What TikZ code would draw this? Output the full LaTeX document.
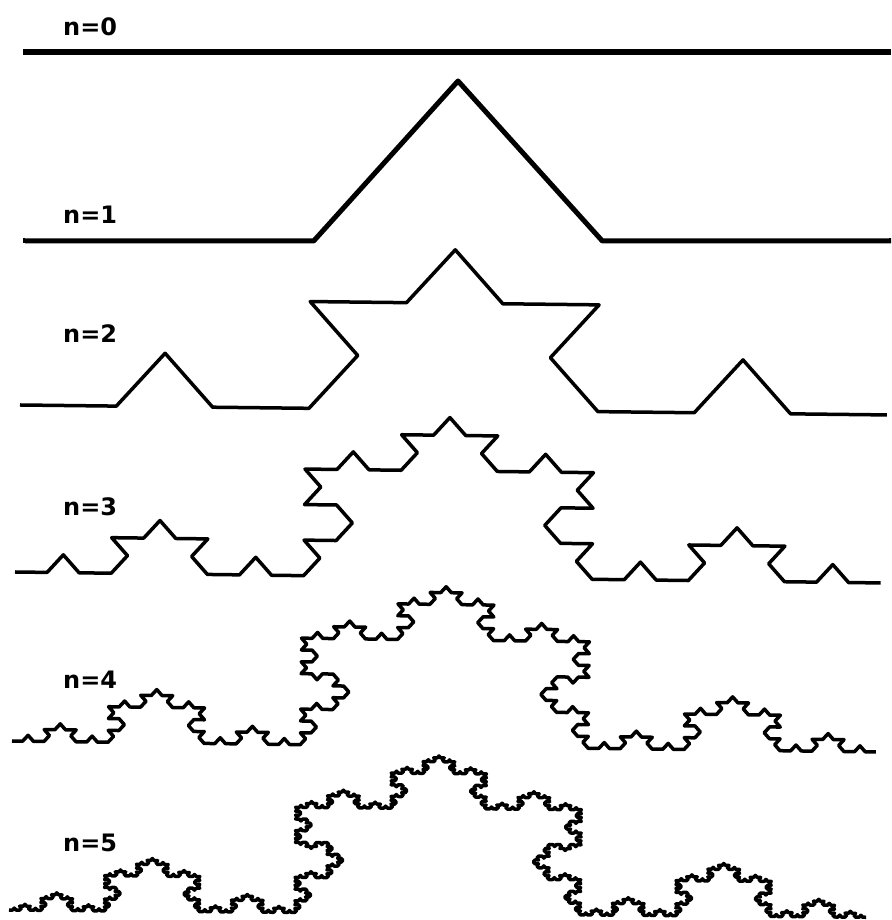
\documentclass[tikz,border=0pt]{standalone}
\usepackage{fontspec}
\setmainfont{DejaVu Sans}
\usetikzlibrary{lindenmayersystems}
\pgfdeclarelindenmayersystem{Koch}{\rule{F -> F+F--F+F}}
\tikzset{
  lab/.style={font=\bfseries\fontsize{24}{26}\selectfont, anchor=west, inner sep=0pt},
  kc/.style={draw=black, line join=round, line cap=butt}
}
\begin{document}
\begin{tikzpicture}[x=1pt,y=1pt]
\useasboundingbox[fill=white] (0,0) rectangle (891,920);
% labels
\node[lab] (l0) at (63,893) {n=0};
\node[lab] (l1) at (63,705) {n=1};
\node[lab] (l2) at (63,586) {n=2};
\node[lab] (l3) at (63,413) {n=3};
\node[lab] (l4) at (63,240) {n=4};
\node[lab] (l5) at (63,77) {n=5};
% n=0
\draw[kc, line width=5.5pt] (23,868) -- (891,868);
% n=1
\begin{scope}[shift={(25,679)}, yscale=0.64]
\draw[kc, line width=5pt] (0,0) [l-system={Koch, axiom=F, order=1, step=866pt/3, angle=60}] lindenmayer system;
\end{scope}
\draw[kc, line width=5pt] (889,679) -- (891,679);
\draw[kc, line width=5pt] (23,679) -- (25,679);
% n=2
\begin{scope}[shift={(20,515)}, rotate=-0.66, yscale=0.64]
\draw[kc, line width=3.5pt] (0,0) [l-system={Koch, axiom=F, order=2, step=867pt/9, angle=60}] lindenmayer system;
\end{scope}
% n=3
\begin{scope}[shift={(15,348)}, rotate=-0.73, yscale=0.64]
\draw[kc, line width=3.5pt] (0,0) [l-system={Koch, axiom=F, order=3, step=866pt/27, angle=60}] lindenmayer system;
\end{scope}
% n=4
\begin{scope}[shift={(12,179)}, rotate=-0.73, yscale=0.64]
\draw[kc, line width=3.5pt] (0,0) [l-system={Koch, axiom=F, order=4, step=865pt/81, angle=60}] lindenmayer system;
\end{scope}
% n=5
\begin{scope}[shift={(9,10)}, rotate=-0.53, yscale=0.64]
\draw[kc, line width=3.5pt] (0,0) [l-system={Koch, axiom=F, order=5, step=858pt/243, angle=60}] lindenmayer system;
\end{scope}
\end{tikzpicture}
\end{document}
